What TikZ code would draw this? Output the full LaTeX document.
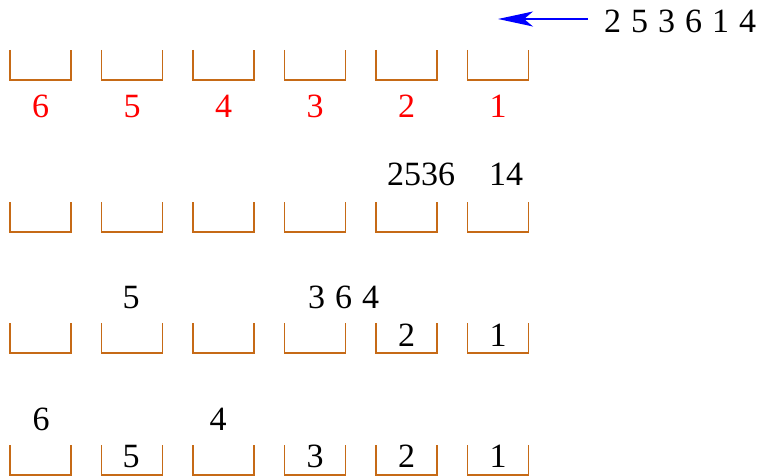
\documentclass[tikz,border=0pt]{standalone}
\usepackage{fontspec}
\setmainfont{Liberation Serif}
\usetikzlibrary{arrows.meta}
\definecolor{bucketc}{RGB}{198,106,22}
\tikzset{
  bucket/.style={draw=bucketc, line width=1.8pt},
  num/.style={inner sep=0pt, anchor=base, font=\fontsize{34}{40}\selectfont},
  numw/.style={inner sep=0pt, anchor=base west, font=\fontsize{34}{40}\selectfont, execute at begin node={\spaceskip=10pt plus 0pt minus 0pt\relax}},
  lbl/.style={num, text=red},
  feed/.style={draw=blue, line width=1.5pt, -{Stealth[length=35pt,width=15pt,inset=9pt]}}
}
\begin{document}
\begin{tikzpicture}[x=1pt,y=-1pt]
\useasboundingbox (0,0) rectangle (763,476);
% buckets
\foreach \top in {50,202,323,445}{
  \foreach \i in {0,...,5}{
    \pgfmathsetmacro{\xl}{10+91.5*\i}
    \draw[bucket] (\xl,\top) -- (\xl,\top+30) -- (\xl+61,\top+30) -- (\xl+61,\top);
  }
}
% input sequence and arrow
\node[numw] (seq) at (604,33) {2 5 3 6 1 4};
\coordinate (afrom) at (588,19);
\coordinate (ato) at (498,19);
\draw[feed] (afrom) -- (ato);
% red labels
\node[lbl] (l6) at (40.5,118) {6};
\node[lbl] (l5) at (132,118) {5};
\node[lbl] (l4) at (223.5,118) {4};
\node[lbl] (l3) at (315,118) {3};
\node[lbl] (l2) at (406.5,118) {2};
\node[lbl] (l1) at (498,118) {1};
% row 2
\node[numw] (r2a) at (387,185) {2536};
\node[numw] (r2b) at (489,185) {14};
% row 3
\node[num] (r3a) at (131,308) {5};
\node[numw] (r3b) at (308,308) {3 6 4};
\node[num] (r3c) at (406.5,346) {2};
\node[num] (r3d) at (498,346) {1};
% row 4
\node[num] (r4a) at (41,430) {6};
\node[num] (r4b) at (218,430) {4};
\node[num] (r4c) at (131,467) {5};
\node[num] (r4d) at (315,467) {3};
\node[num] (r4e) at (406.5,467) {2};
\node[num] (r4f) at (498,467) {1};
\end{tikzpicture}
\end{document}
